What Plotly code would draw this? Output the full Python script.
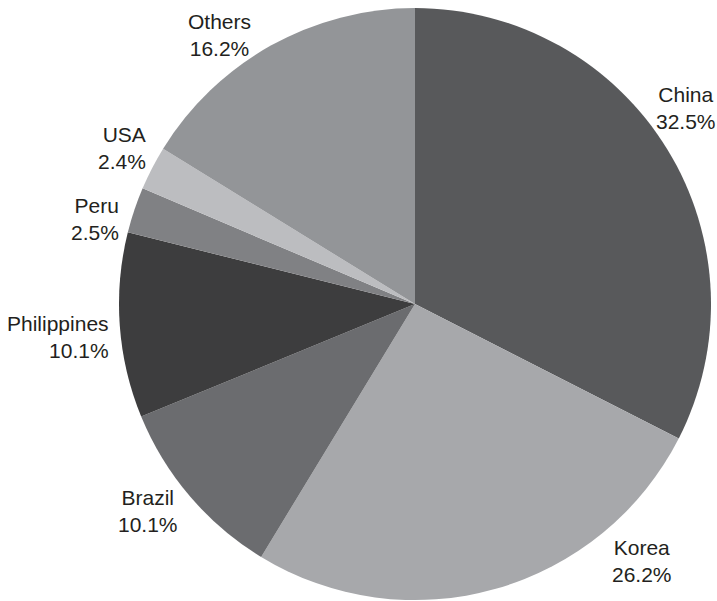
import plotly.graph_objects as go

countries = ["China", "Korea", "Brazil", "Philippines", "Peru", "USA", "Others"]
shares = [32.5, 26.2, 10.1, 10.1, 2.5, 2.4, 16.2]
colors = ["#58595b", "#a7a8ab", "#6b6c6f", "#3d3d3e", "#808184", "#bcbdc0", "#939598"]

W, H = 717, 601

# label placement in pixels (x, y from top, anchor) -- styling only
label_pos = {
    "China": (686, 108, "center"),
    "Korea": (642, 561, "center"),
    "Brazil": (148, 511, "center"),
    "Philippines": (111, 337, "right"),
    "Peru": (121, 219, "right"),
    "USA": (148, 148, "right"),
    "Others": (219, 35, "center"),
}

fig = go.Figure(go.Pie(
    labels=countries,
    values=shares,
    textinfo="none",
    sort=False,
    direction="clockwise",
    rotation=0,
    marker=dict(colors=colors, line=dict(width=0)),
    showlegend=False,
    domain=dict(x=[119 / W, 711 / W], y=[0.0, 0.988]),
    hoverinfo="label+percent",
))

annotations = []
for c, v in zip(countries, shares):
    px, py, anchor = label_pos[c]
    annotations.append(dict(
        x=px / W, y=1 - py / H, xref="paper", yref="paper",
        text=f"{c}<br>{v:.1f}%",
        showarrow=False,
        xanchor=anchor, yanchor="middle", align=anchor,
        font=dict(family="Liberation Sans, Arial, sans-serif", size=21, color="#231f20"),
    ))

fig.update_layout(
    width=W, height=H,
    margin=dict(l=0, r=0, t=0, b=0),
    paper_bgcolor="white",
    plot_bgcolor="white",
    annotations=annotations,
)

fig.write_html(
    "out.html",
    config={"displayModeBar": False},
    post_script="document.body.style.margin='0';document.body.style.overflow='hidden';",
)
